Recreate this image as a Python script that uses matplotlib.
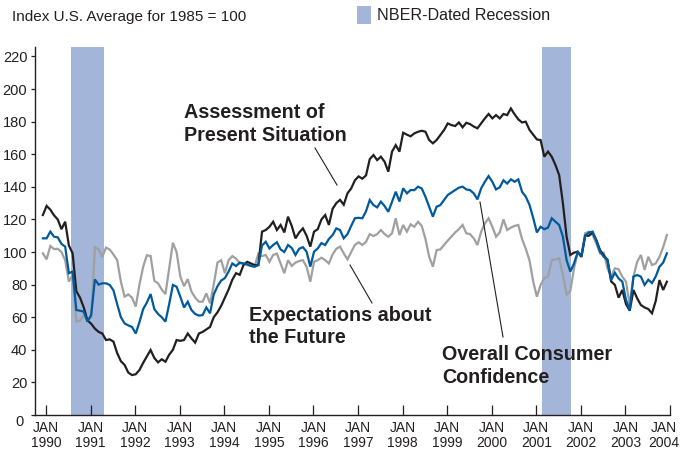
import matplotlib
matplotlib.use("Agg")
import matplotlib.pyplot as plt
from matplotlib import font_manager
from matplotlib.transforms import ScaledTranslation
from matplotlib.lines import Line2D
from matplotlib.patches import Rectangle
import numpy as np

# ---------------- data (monthly, Jan 1990 .. Jan 2004) ----------------
present = [122.7, 128.3, 126, 122.5, 120, 114, 118.6, 104, 99.2, 76, 72, 66,
           58, 56, 53, 51, 50, 46, 46.4, 45, 38, 33, 30.7, 26,
           24.5, 25, 27.6, 32, 36, 39.9, 35, 32.3, 34.2, 32.7, 37, 40,
           46, 45.5, 46, 50, 47, 44.4, 50, 51, 52.5, 54, 60, 63,
           67, 72, 77, 83, 87, 86, 92, 94, 93, 92, 92, 112.5,
           113.5, 115.5, 118.6, 113.5, 116.6, 112, 121.7, 116, 108.4, 112, 114.5, 110,
           103.3, 112.5, 114, 120, 122.7, 116.6, 126.5, 130, 132, 129, 136, 139,
           144, 146.4, 145, 147, 157, 159.5, 156.4, 158.5, 155.4, 149.3, 161.6, 165.6,
           161.6, 173.2, 172, 171, 172.8, 173.8, 174.4, 173.8, 168.7, 166.7, 168.7, 171.8,
           174.8, 178.9, 177.9, 177.3, 179.5, 176.5, 179.3, 178.5, 177, 175.9, 178.9, 182,
           184.7, 182, 184, 182, 184.7, 184, 188.1, 184.5, 181.4, 179.5, 180, 175,
           172, 169.1, 168.7, 158.5, 161.6, 158.5, 153.4, 147.2, 130, 109.4, 98.2, 99.6,
           100.2, 97.1, 110, 110, 112, 107.4, 101.2, 98, 95, 82, 79.8, 72,
           76.7, 68, 64, 76.7, 71.6, 67.5, 66, 65, 62.4, 70, 82.8, 76.7,
           81.8]

overall = [108.4, 108.4, 112.5, 109.4, 109, 105, 103.3, 87, 88, 64.4, 64, 63.4,
           57.3, 61.3, 83.2, 80, 80.8, 80.8, 79.8, 76.5, 68, 60, 56.2, 55,
           54, 50, 57, 65, 69, 74.2, 65, 62, 60, 57.3, 68, 79.8,
           78.7, 72.6, 66, 69.5, 64.4, 62, 61, 61.3, 66, 62.4, 74, 79,
           82.5, 84, 88, 93, 91.4, 93.5, 93, 92.5, 91.5, 91, 92, 104,
           106.3, 102.2, 104.3, 106, 101.6, 100, 104.3, 102.5, 98.2, 102, 103, 100.2,
           91, 100.2, 102.2, 105.5, 104.3, 108, 110.4, 114.5, 113.5, 108.4, 111, 116,
           120.7, 121, 120.7, 125, 131.9, 128.8, 127.4, 130.9, 128.2, 124.7, 130.9, 137,
           131, 139.1, 136, 138, 138, 140.1, 139, 133.9, 127.8, 121.7, 127.8, 128.8,
           131.9, 135, 136.5, 138, 139.5, 140.1, 138.4, 138, 136, 132.3, 139.1, 143.1,
           146.6, 143.1, 138.4, 139.7, 144, 142, 144.6, 143.1, 144.6, 137, 134, 129,
           121, 112, 115.5, 114, 115, 120.7, 118.6, 116.6, 109.4, 95, 88, 93,
           100, 98, 110, 112, 112.5, 107, 100.2, 97.1, 95.5, 82.8, 87.3, 83.8,
           81.8, 70.6, 64.4, 84.9, 85.9, 84.9, 79.8, 83, 81, 85, 91, 93.5,
           99.2]

expect = [99.2, 95.5, 103.7, 101.8, 102, 100, 95, 81.8, 86, 57.3, 57.9, 61.3,
          58, 60, 103, 101.6, 97, 102.7, 101.5, 98.5, 95, 81.8, 72.6, 74,
          72, 66.5, 80, 91, 98, 97.5, 82.4, 80.8, 77, 74.2, 90, 105.7,
          100, 84.9, 79, 83.4, 75.7, 72, 69.5, 69.5, 74.6, 68.5, 80, 93.5,
          95, 87, 95, 97.5, 96, 93, 92.8, 92, 91.4, 91, 99, 97.5,
          98.2, 94, 98.2, 99, 93, 87, 95, 91.5, 93.5, 94.5, 95, 91,
          81.8, 94, 95, 96.5, 95, 93, 98.5, 102, 103.3, 99.2, 95.5, 100,
          104.3, 106, 104.3, 106.3, 111, 109.8, 111, 113.5, 111, 109.4, 111.5, 120.7,
          110.4, 116.6, 112.5, 117, 115.5, 118.6, 116, 108, 97.1, 91, 101.2, 101.6,
          104.3, 107, 109.5, 112, 114, 116.6, 111.5, 111, 108.4, 104.3, 112.5, 117.6,
          120.7, 115.5, 109.4, 112, 120, 113.5, 115, 116, 116.6, 108, 102, 95,
          82, 72.6, 79.8, 84, 85, 95, 95.5, 96.1, 86, 74, 76, 90,
          99.6, 97, 111.5, 112.5, 110.4, 105.3, 99.2, 99.6, 90, 84.9, 90, 89.4,
          84.9, 81.8, 67.5, 84.9, 94, 98.2, 89, 97.1, 92, 93, 97, 103,
          110.4]

start_year = 1990
recessions = [(1990.56, 1991.31), (2001.12, 2001.78)]
year_ticks = list(range(1990, 2005))
y_ticks = list(range(0, 221, 20))

# ---------------- styling ----------------
names = {f.name for f in font_manager.fontManager.ttflist}
NARROW = "Liberation Sans Narrow" if "Liberation Sans Narrow" in names else "Liberation Sans"
BOLD = "Liberation Sans"

C_BLACK = "#231f20"
C_BLUE = "#005a9c"
C_GRAY = "#a0a0a0"
C_BAND = "#a3b5d8"

W, H = 681, 455
fig = plt.figure(figsize=(W / 100, H / 100), dpi=100)

def fx(px):
    return px / W

def fy(py):
    return 1 - py / H

ax = fig.add_axes([fx(35), fy(415), fx(670) - fx(35), fy(47) - fy(415)])

n = len(present)
months = start_year - 0.07 + np.arange(n) / 12.0

for a, b in recessions:
    ax.axvspan(a, b, color=C_BAND, lw=0, zorder=1)

ax.plot(months, expect, color=C_GRAY, lw=1.6, zorder=2, solid_joinstyle="miter")
ax.plot(months, present, color=C_BLACK, lw=1.6, zorder=3, solid_joinstyle="miter")
ax.plot(months, overall, color=C_BLUE, lw=1.6, zorder=4, solid_joinstyle="miter")

ax.set_xlim(1989.753, 2004.0)
ax.set_ylim(0, 225.8)

for s in ["top", "right"]:
    ax.spines[s].set_visible(False)
for s in ["left", "bottom"]:
    ax.spines[s].set_color(C_BLACK)
    ax.spines[s].set_linewidth(1.0)

ax.set_xticks(year_ticks)
ax.set_xticklabels([f"JAN\n{y}" for y in year_ticks], fontfamily=NARROW,
                   fontsize=10, linespacing=1.1, color=C_BLACK)
ax.tick_params(axis="x", direction="in", length=7, width=0.9, pad=4.5, color=C_BLACK)
last_lbl = ax.get_xticklabels()[-1]
last_lbl.set_transform(last_lbl.get_transform() + ScaledTranslation(-6 / 100, 0, fig.dpi_scale_trans))

ax.set_yticks(y_ticks)
ax.set_yticklabels([str(v) for v in y_ticks], fontfamily=NARROW, fontsize=10.5, color=C_BLACK)
ax.tick_params(axis="y", direction="out", length=3, width=0.9, pad=2.5, color=C_BLACK)
# shift the "0" label down/left as in the original
zero_lbl = ax.get_yticklabels()[0]
zero_lbl.set_transform(zero_lbl.get_transform() + ScaledTranslation(-4 / 100, -6 / 100, fig.dpi_scale_trans))

# header texts
fig.text(fx(12), fy(17), "Index U.S. Average for 1985 = 100", fontfamily=NARROW,
         fontsize=11, va="center", ha="left", color=C_BLACK)
fig.patches.append(Rectangle((fx(357), fy(24)), fx(14), fy(6) - fy(24),
                             transform=fig.transFigure, color=C_BAND, lw=0))
fig.text(fx(377), fy(16), "NBER-Dated Recession", fontfamily=NARROW,
         fontsize=11.6, va="center", ha="left", color=C_BLACK)

# annotations
ann_kw = dict(fontfamily=BOLD, fontweight="bold", fontsize=14.2, ha="left",
              va="center", color=C_BLACK, linespacing=1.25)
fig.text(fx(184), fy(124), "Assessment of\nPresent Situation", **ann_kw)
fig.text(fx(249), fy(326.5), "Expectations about\nthe Future", **ann_kw)
fig.text(fx(442), fy(366), "Overall Consumer\nConfidence", **ann_kw)

for (x0, y0, x1, y1) in [(315, 148, 337, 185), (350, 265, 372, 303), (480, 202, 503, 337)]:
    fig.lines.append(Line2D([fx(x0), fx(x1)], [fy(y0), fy(y1)], transform=fig.transFigure,
                            color=C_BLACK, lw=0.8))

fig.savefig("out.png", dpi=100)
